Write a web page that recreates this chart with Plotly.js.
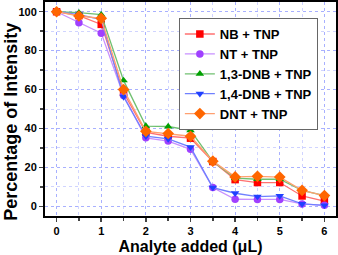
<!DOCTYPE html>
<html><head><meta charset="utf-8">
<script src="https://cdn.plot.ly/plotly-3.0.1.min.js"></script>
<style>html,body{margin:0;padding:0;background:#fff}#c{width:338px;height:255px}</style>
</head><body><div id="c"></div>
<script>
const xs = [0, 0.5, 1, 1.5, 2, 2.5, 3, 3.5, 4, 4.5, 5, 5.5, 6];
const seriesNames = ["NB + TNP", "NT + TNP", "1,3-DNB + TNP", "1,4-DNB + TNP", "DNT + TNP"];
const nb   = [100, 98, 93.5, 58.5, 38, 36, 35, 23, 13.7, 12.2, 12.2, 5.3, 2.6];
const nt   = [100, 94.3, 89, 57, 35.2, 33.5, 29.3, 9.6, 3.6, 3.5, 3.5, 1.2, 0.5];
const dnb13= [100, 99.5, 98.5, 64.7, 41.2, 41, 39, 23, 14.5, 13.9, 13.9, 8.2, 5.5];
const dnb14= [100, 98.5, 96, 56.3, 36, 34.6, 30.4, 9.6, 6.7, 5, 5.3, 1.2, 0.5];
const dnt  = [100, 97.8, 96.6, 60, 38.5, 37.4, 36, 23.2, 15.1, 15.4, 15, 8.2, 5.5];
const yTitle = "Percentage of Intensity";
const xTitle = "Analyte added (μL)";

const data = [nb, nt, dnb13, dnb14, dnt];
const markerColors = ["#ff0000", "#a040ff", "#00a000", "#2040ff", "#ff6600"];
const lineColors = ["#ff7070", "#c890ff", "#70c070", "#7080ff", "#ffa070"];
const symbols = ["square", "circle", "triangle-up", "triangle-down", "diamond"];

const traces = data.map((ys, i) => ({
  x: xs, y: ys, name: seriesNames[i], type: "scatter", mode: "lines+markers",
  line: {color: lineColors[i], width: 1.3},
  marker: {color: markerColors[i], symbol: symbols[i], size: symbols[i]==="diamond"?9:7.5}
}));

const layout = {
  width: 338, height: 255,
  margin: {l: 45, r: 2, t: 2, b: 39},
  paper_bgcolor: "#fff", plot_bgcolor: "#fff",
  font: {family: "Liberation Sans, Arial, sans-serif", color: "#000"},
  showlegend: true,
  legend: {x: 0.46, y: 0.925, xanchor: "left", yanchor: "top",
    bgcolor: "#fff", bordercolor: "#666", borderwidth: 1,
    font: {size: 13, family: "Liberation Sans, Arial, sans-serif", weight: "bold"},
    itemwidth: 30, tracegroupgap: 0},
  annotations: [{text: yTitle, xref: "paper", yref: "paper", x: -0.117, y: 0.44,
    xanchor: "center", yanchor: "middle", textangle: -90, showarrow: false,
    font: {size: 18, weight: "bold", family: "Liberation Sans, Arial, sans-serif"}}],
  xaxis: {range: [-0.26, 6.26], tickvals: [0,1,2,3,4,5,6], ticks: "outside", ticklen: 4, tickwidth: 1.5,
    showline: true, linecolor: "#000", linewidth: 2, mirror: true,
    showgrid: true, gridcolor: "#a8b0ff", griddash: "dot", gridwidth: 1, zeroline: false,
    tickfont: {size: 11, weight: "bold"},
    minor: {dtick: 0.5, tick0: 0, ticks: "outside", ticklen: 3, showgrid: true, gridcolor: "#d0d4ff", griddash: "dot"},
    title: {text: xTitle, font: {size: 16, weight: "bold"}, standoff: 8}},
  yaxis: {range: [-5, 105], tickvals: [0,20,40,60,80,100], ticks: "outside", ticklen: 4, tickwidth: 1.5,
    showline: true, linecolor: "#000", linewidth: 2, mirror: true,
    showgrid: true, gridcolor: "#a8b0ff", griddash: "dot", gridwidth: 1, zeroline: false,
    tickfont: {size: 11, weight: "bold"},
    minor: {dtick: 10, tick0: 0, ticks: "outside", ticklen: 3, showgrid: true, gridcolor: "#d0d4ff", griddash: "dot"}}
};
Plotly.newPlot("c", traces, layout, {displayModeBar: false, staticPlot: true});
</script></body></html>
